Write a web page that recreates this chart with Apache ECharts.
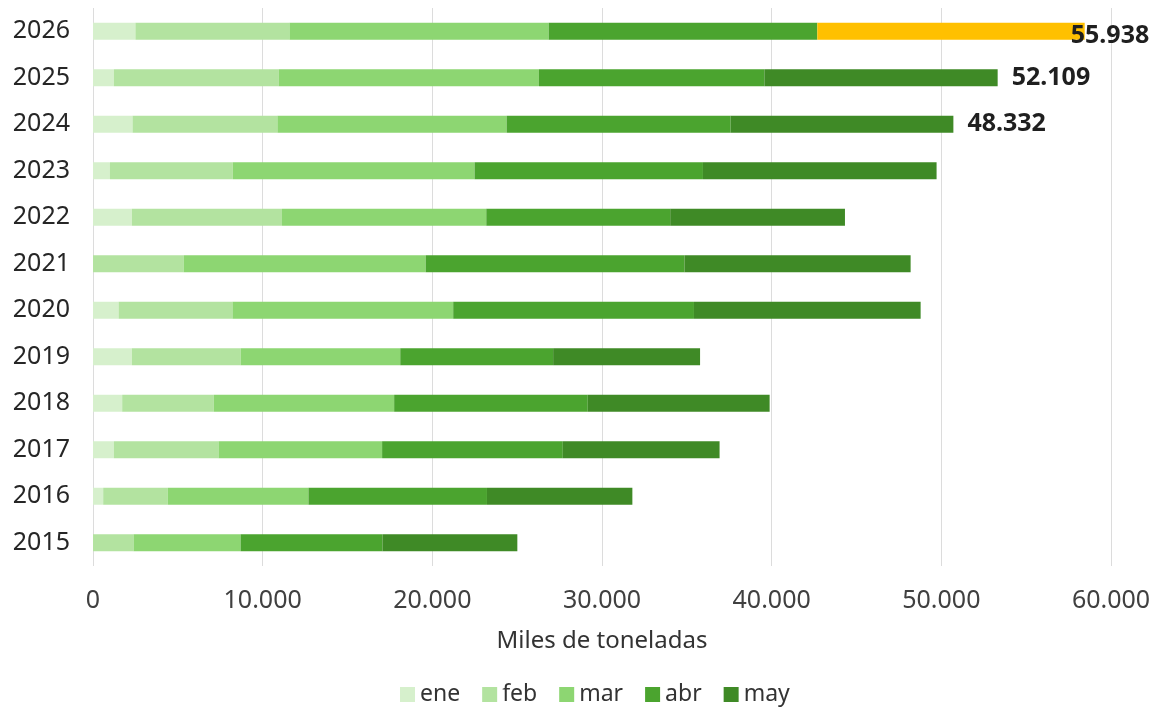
<!DOCTYPE html>
<html>
<head>
<meta charset="utf-8">
<script src="https://cdn.jsdelivr.net/npm/echarts@6/dist/echarts.min.js"></script>
<style>
  html, body { margin: 0; padding: 0; background: #ffffff; }
  #chart { width: 1157px; height: 711px; }
</style>
</head>
<body>
<div id="chart"></div>
<script>
// Categories (bottom to top)
const years = ['2015','2016','2017','2018','2019','2020','2021','2022','2023','2024','2025','2026'];
// Monthly values (miles de toneladas)
const ene = [0, 600, 1230, 1720, 2290, 1510, 0, 2290, 1000, 2330, 1230, 2500];
const feb = [2390, 3810, 6170, 5400, 6410, 6710, 5340, 8850, 7240, 8540, 9710, 9080];
const mar = [6310, 8290, 9640, 10630, 9410, 13010, 14270, 12040, 14250, 13510, 15340, 15280];
const abr = [8360, 10520, 10650, 11410, 9010, 14190, 15250, 10840, 13460, 13200, 13290, 15830];
const may = [7950, 8570, 9240, 10720, 8660, 13360, 13330, 10300, 13770, 13130, 13750, 15760];
// Annotated values shown at the end of the latest bars
const annotations = [null, null, null, null, null, null, null, null, null, 48332, 52109, 55938];
const highlightYear = '2026';
const monthNames = ['ene', 'feb', 'mar', 'abr', 'may'];
const xTicks = [0, 10000, 20000, 30000, 40000, 50000, 60000];

const colors = ['#d6f0cc', '#b3e3a0', '#8dd672', '#4ba42f', '#3f8a26'];
const highlightColor = '#ffc000';

function fmt(v) {
  return String(v).replace(/\B(?=(\d{3})+(?!\d))/g, '.');
}

const seriesData = [ene, feb, mar, abr, may];
const series = seriesData.map((arr, si) => {
  const isLast = si === seriesData.length - 1;
  return {
    name: monthNames[si],
    type: 'bar',
    stack: 'total',
    barWidth: 17,
    itemStyle: { color: colors[si] },
    emphasis: { disabled: true },
    data: arr.map((v, i) => {
      const item = { value: v };
      if (isLast && years[i] === highlightYear) {
        item.itemStyle = { color: highlightColor };
      }
      if (isLast && annotations[i] != null) {
        item.label = {
          show: true,
          position: 'right',
          distance: 14,
          formatter: () => fmt(annotations[i]),
          fontFamily: 'Noto Sans',
          fontWeight: 'bold',
          fontSize: 25,
          color: '#1f1f1f'
        };
        if (years[i] === highlightYear) {
          item.label.offset = [-28, 5];
        }
      }
      return item;
    })
  };
});

const chart = echarts.init(document.getElementById('chart'), null, { renderer: 'canvas' });
chart.setOption({
  animation: false,
  backgroundColor: '#ffffff',
  textStyle: { fontFamily: 'Noto Sans' },
  grid: { left: 93, right: 46, top: 8, bottom: 145, containLabel: false },
  legend: {
    data: monthNames,
    bottom: 5,
    left: 400,
    padding: 0,
    icon: 'rect',
    itemWidth: 15,
    itemHeight: 15,
    itemGap: 22,
    textStyle: { fontSize: 23, color: '#333333', fontFamily: 'Noto Sans' }
  },
  xAxis: {
    type: 'value',
    min: xTicks[0],
    max: xTicks[xTicks.length - 1],
    interval: 10000,
    name: 'Miles de toneladas',
    nameLocation: 'middle',
    nameGap: 63,
    nameTextStyle: { fontSize: 24, color: '#333333', fontFamily: 'Noto Sans' },
    axisLine: { show: false },
    axisTick: { show: false },
    axisLabel: {
      margin: 22,
      fontSize: 25,
      color: '#404040',
      fontFamily: 'Noto Sans',
      formatter: v => fmt(v)
    },
    splitLine: { show: true, lineStyle: { color: '#dcdcdc', width: 1 } }
  },
  yAxis: {
    type: 'category',
    data: years,
    axisLine: { show: false },
    axisTick: { show: false },
    axisLabel: {
      margin: 23,
      fontSize: 25,
      color: '#262626',
      fontFamily: 'Noto Sans'
    },
    splitLine: { show: false }
  },
  series: series
});
</script>
</body>
</html>
